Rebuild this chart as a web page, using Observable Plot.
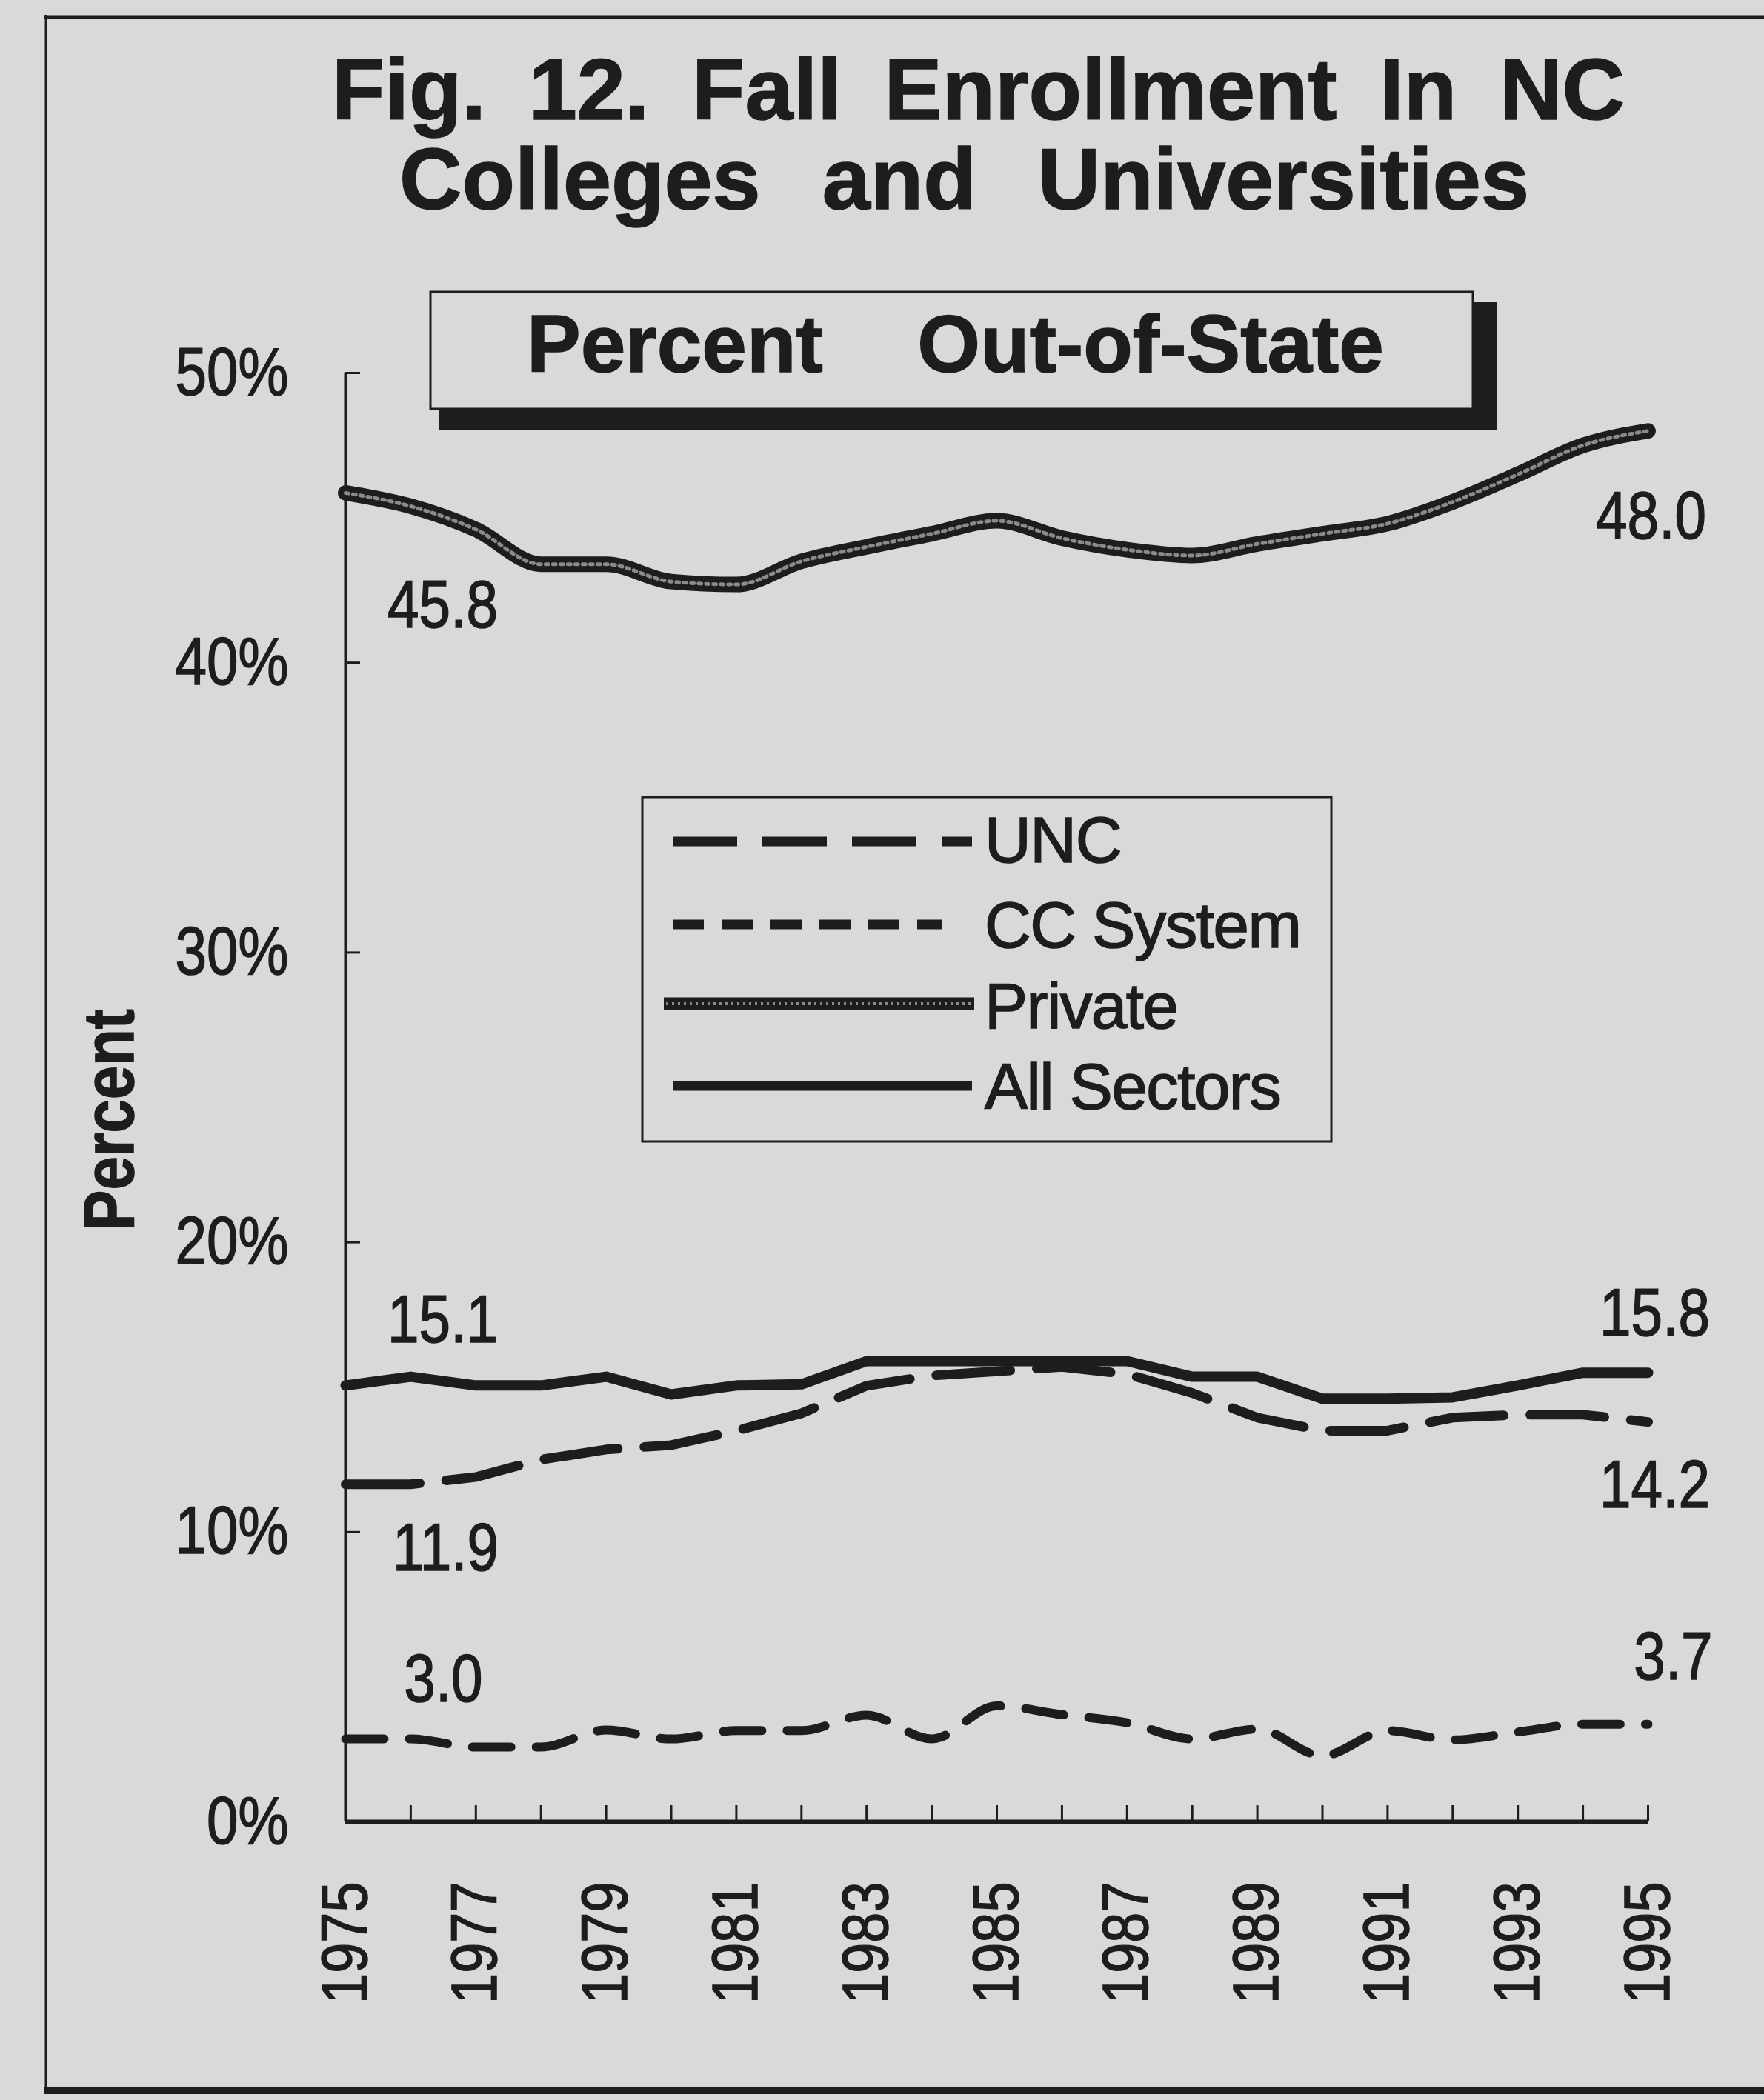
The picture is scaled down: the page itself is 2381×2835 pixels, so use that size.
<!DOCTYPE html>
<html><head><meta charset="utf-8">
<script src="https://cdn.jsdelivr.net/npm/d3@7"></script>
<script src="https://cdn.jsdelivr.net/npm/@observablehq/plot@0.6"></script>
<style>
html,body{margin:0;padding:0;background:#d9d9d9;overflow:hidden;}
#page{position:relative;width:2381px;height:2835px;overflow:hidden;background:#d9d9d9;}
#chart{position:absolute;left:0;top:0;}
#deco{position:absolute;left:0;top:0;}
</style></head><body>
<div id="page"><div id="chart"></div><svg id="deco" width="2381" height="2835" xmlns="http://www.w3.org/2000/svg"></svg></div>
<script>
// ---------- data ----------
const years = [1975,1976,1977,1978,1979,1980,1981,1982,1983,1984,1985,1986,1987,1988,1989,1990,1991,1992,1993,1994,1995];
const yearLabels = [1975,1977,1979,1981,1983,1985,1987,1989,1991,1993,1995];
const yTicks = [0,10,20,30,40,50];
const unc = [11.65,11.65,11.9,12.5,12.85,13.0,13.5,14.1,15.05,15.4,15.55,15.7,15.45,14.8,13.95,13.5,13.5,13.95,14.05,14.05,13.8];
const ccSystem = [2.86,2.86,2.58,2.58,3.17,2.86,3.15,3.15,3.68,2.86,4.0,3.7,3.42,2.86,3.2,2.28,3.15,2.83,3.1,3.37,3.37];
const privateSector = [45.86,45.4,44.6,43.4,43.4,42.8,42.7,43.5,44.0,44.45,44.9,44.3,43.9,43.7,44.1,44.45,44.8,45.55,46.5,47.5,48.0];
const allSectors = [15.06,15.36,15.06,15.06,15.36,14.75,15.06,15.1,15.9,15.9,15.9,15.9,15.9,15.36,15.36,14.6,14.6,14.65,15.06,15.5,15.5];
const seriesNames = ["UNC","CC System","Private","All Sectors"];
const uncEnds = ["11.9","14.2"];
const ccEnds = ["3.0","3.7"];
const privateEnds = ["45.8","48.0"];
const allEnds = ["15.1","15.8"];
const titleLine1 = ["Fig.","12.","Fall","Enrollment","In","NC"];
const titleLine2 = ["Colleges","and","Universities"];
const boxWords = ["Percent","Out-of-State"];
const yLabel = "Percent";

// ---------- styles ----------
const INK = "#1d1d1d", BG = "#d9d9d9";
const FONT = "'Liberation Sans', Arial, Helvetica, sans-serif";
const seriesValues = {"UNC": unc, "CC System": ccSystem, "Private": privateSector, "All Sectors": allSectors};
const seriesEnds = {"UNC": uncEnds, "CC System": ccEnds, "Private": privateEnds, "All Sectors": allEnds};
const labelOffsets = {
  "Private": [[131,152],[4,116]],
  "All Sectors": [[131,-87],[9,-79]],
  "UNC": [[135,87],[9,86]],
  "CC System": [[132,-80],[34,-90]]
};

const table = [];
for (const s of seriesNames) years.forEach((yr, i) => table.push({series: s, year: yr, value: seriesValues[s][i]}));
const only = s => d => d.series === s;

const lineMarks = [
  Plot.line(table, {filter: only("Private"), x: "year", y: "value", stroke: INK, strokeWidth: 21, curve: "monotone-x"}),
  Plot.line(table, {filter: only("Private"), x: "year", y: "value", stroke: "#8a8a8a", strokeWidth: 5, strokeDasharray: "4,6", curve: "monotone-x"}),
  Plot.line(table, {filter: only("All Sectors"), x: "year", y: "value", stroke: INK, strokeWidth: 14, curve: "linear", strokeLinejoin: "round"}),
  Plot.line(table, {filter: only("UNC"), x: "year", y: "value", stroke: INK, strokeWidth: 13, strokeDasharray: "100,36", curve: "linear"}),
  Plot.line(table, {filter: only("CC System"), x: "year", y: "value", stroke: INK, strokeWidth: 12, strokeDasharray: "52,34", curve: "monotone-x"})
];

const labelMarks = [];
for (const s of seriesNames) {
  [0, years.length - 1].forEach((i, j) => {
    labelMarks.push(Plot.text([{x: years[i], y: seriesValues[s][i], t: seriesEnds[s][j]}],
      {x: "x", y: "y", text: "t", dx: labelOffsets[s][j][0], dy: labelOffsets[s][j][1], fontSize: 91, fill: INK}));
  });
}

const chart = Plot.plot({
  width: 2381, height: 2835,
  marginLeft: 466, marginRight: 157, marginTop: 503, marginBottom: 376,
  x: {domain: [years[0], years[years.length - 1]]},
  y: {domain: [yTicks[0], yTicks[yTicks.length - 1]]},
  style: {background: "transparent", fontFamily: FONT, color: INK, overflow: "visible"},
  marks: [
    Plot.axisY(yTicks, {tickSize: -20, strokeWidth: 3, tickFormat: () => "", label: null}),
    Plot.axisY(yTicks, {tickSize: 0, tickPadding: 77, tickFormat: d => `${d}%`, fontSize: 91, label: null}),
    Plot.axisX(years, {tickSize: -22, strokeWidth: 3, tickFormat: () => "", label: null}),
    Plot.axisX(yearLabels, {tickSize: 0, tickPadding: 81, tickRotate: -90, tickFormat: d => String(d), fontSize: 88, label: null}),
    Plot.ruleX([years[0]], {stroke: INK, strokeWidth: 4}),
    Plot.ruleY([yTicks[0]], {stroke: INK, strokeWidth: 6}),
    ...lineMarks,
    ...labelMarks,
    Plot.text([yLabel], {text: d => d, frameAnchor: "left", textAnchor: "middle", rotate: -90, dx: -318, dy: 30, fontSize: 97, fontWeight: "bold", fill: INK})
  ]
});
document.getElementById("chart").appendChild(chart);
// narrow (condensed), slightly heavy face for chart texts
chart.querySelectorAll("text").forEach(el => {
  const w = el.getComputedTextLength();
  if (w > 0) { el.setAttribute("textLength", (w * 0.84).toFixed(1)); el.setAttribute("lengthAdjust", "spacingAndGlyphs"); }
  el.setAttribute("stroke", INK); el.setAttribute("stroke-width", "1.6");
});

// ---------- decorations (frame, title, box, legend) ----------
const deco = document.getElementById("deco");
const NS = "http://www.w3.org/2000/svg";
function mk(tag, attrs, parent = deco) {
  const e = document.createElementNS(NS, tag);
  for (const k in attrs) e.setAttribute(k, attrs[k]);
  parent.appendChild(e); return e;
}
// keep the right edge clear (the frame is open on the right)
mk("rect", {x: 2340, y: 30, width: 41, height: 2782, fill: BG});
// frame
mk("line", {x1: 62, y1: 20, x2: 62, y2: 2826, stroke: INK, "stroke-width": 3});
mk("line", {x1: 60, y1: 23, x2: 2381, y2: 23, stroke: INK, "stroke-width": 5});
mk("line", {x1: 60, y1: 2822, x2: 2381, y2: 2822, stroke: INK, "stroke-width": 10});

function placeWords(words, left, right, baseline, fs, weight, extra = {}) {
  const els = words.map(w => {
    const t = mk("text", Object.assign({y: baseline, "font-size": fs, "font-weight": weight, fill: INK, "font-family": FONT}, extra));
    t.textContent = w; return t;
  });
  const widths = els.map(e => e.getComputedTextLength());
  const gap = words.length > 1 ? (right - left - d3.sum(widths)) / (words.length - 1) : 0;
  let x = left;
  els.forEach((e, i) => { e.setAttribute("x", x); x += widths[i] + gap; });
}
placeWords(titleLine1, 448, 2193, 161, 117, "bold", {stroke: INK, "stroke-width": 1.5});
placeWords(titleLine2, 539, 2064, 282, 117, "bold", {stroke: INK, "stroke-width": 1.5});

// "Percent Out-of-State" box with shadow
mk("rect", {x: 592, y: 408, width: 1429, height: 172, fill: INK});
mk("rect", {x: 581, y: 394, width: 1407, height: 158, fill: BG, stroke: INK, "stroke-width": 3});
placeWords(boxWords, 711, 1868, 502, 109, "bold", {stroke: INK, "stroke-width": 1.5});

// legend
mk("rect", {x: 867, y: 1076, width: 930, height: 465, fill: "none", stroke: INK, "stroke-width": 3});
const legendRows = [
  {name: seriesNames[0], y: 1136, base: 1164, x1: 908, x2: 1312, w: 13, dash: "87,34"},
  {name: seriesNames[1], y: 1248, base: 1279, x1: 908, x2: 1272, w: 13, dash: "42,24"},
  {name: seriesNames[2], y: 1355, base: 1388, x1: 896, x2: 1315, w: 17, chain: true},
  {name: seriesNames[3], y: 1466, base: 1497, x1: 908, x2: 1312, w: 13}
];
for (const r of legendRows) {
  if (r.chain) {
    mk("line", {x1: r.x1, y1: r.y, x2: r.x2, y2: r.y, stroke: INK, "stroke-width": r.w});
    mk("line", {x1: r.x1 + 3, y1: r.y, x2: r.x2 - 3, y2: r.y, stroke: "#8a8a8a", "stroke-width": 4, "stroke-dasharray": "3,5"});
  } else {
    const a = {x1: r.x1, y1: r.y, x2: r.x2, y2: r.y, stroke: INK, "stroke-width": r.w};
    if (r.dash) a["stroke-dasharray"] = r.dash;
    mk("line", a);
  }
  const t = mk("text", {x: 1329, y: r.base, "font-size": 87, fill: INK, stroke: INK, "stroke-width": 1.6, "font-family": FONT, "letter-spacing": "-1.5"});
  t.textContent = r.name;
}
</script>
</body></html>
